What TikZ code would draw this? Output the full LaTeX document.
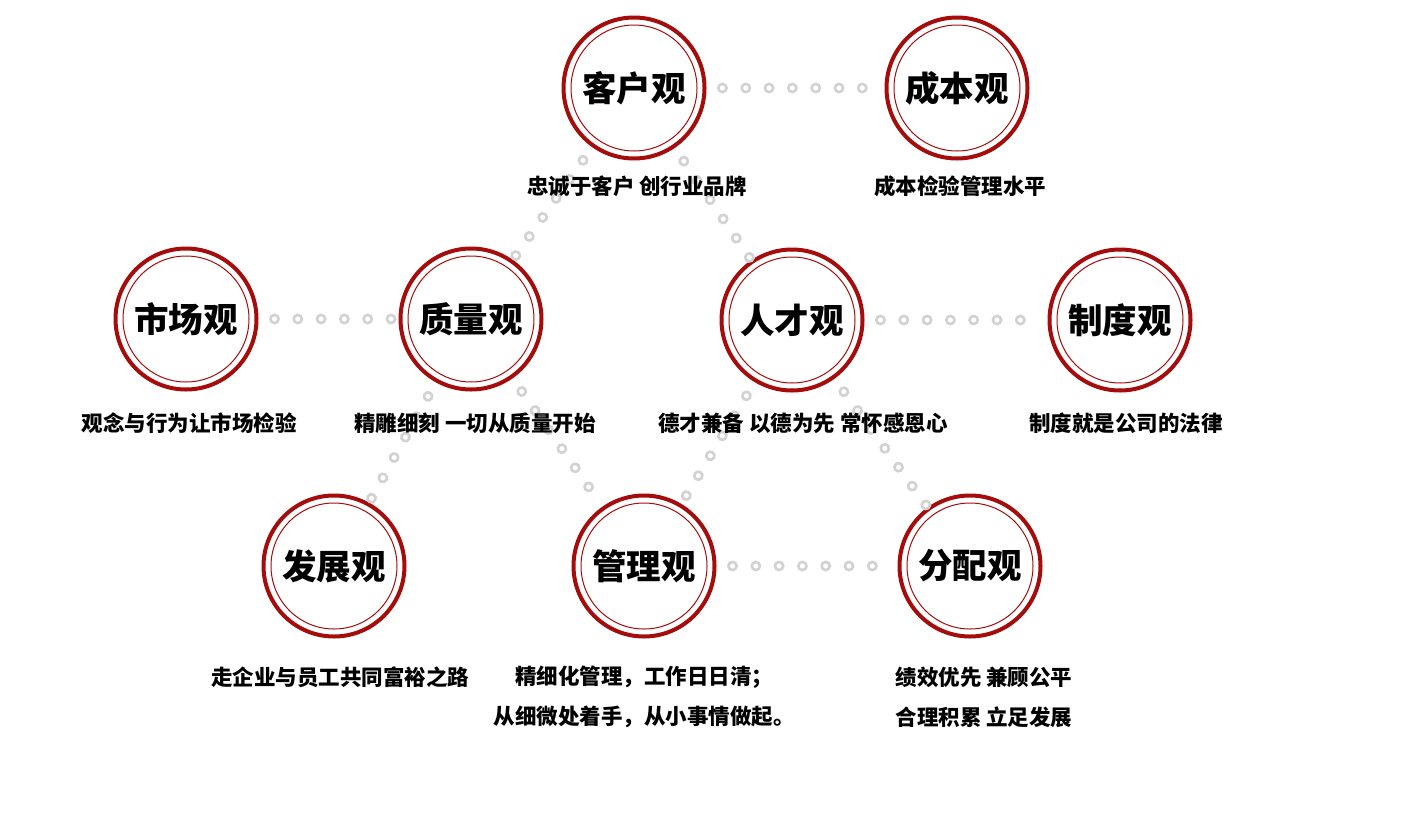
\documentclass[tikz,border=0pt]{standalone}
\usepackage{fontspec}
\newfontfamily\cjk{Noto Sans CJK SC}
\usetikzlibrary{decorations.markings}
\definecolor{ringred}{HTML}{A50D0D}
\definecolor{dotgray}{HTML}{D2D2D2}

\begin{document}
\begin{tikzpicture}[x=1pt, y=-1pt,
    idea/.style={circle, draw=ringred, line width=4pt, fill=white, minimum size=141pt, inner sep=0pt,
        font=\cjk\bfseries\fontsize{34.5}{34.5}\selectfont},
    motto/.style={font=\cjk\bfseries\fontsize{21.5}{40}\selectfont, align=center},
    ringlink/.style={postaction={decorate}, decoration={markings,
        mark=between positions 16pt and #1 step 23.3pt with {\draw[dotgray, line width=2.6pt] (0,0) circle (4.1pt);}}},
    ringlink/.default=-2pt]
    % Canvas
    \fill[white] (0,0) rectangle (1409,825);
    \useasboundingbox (0,0) rectangle (1409,825);

    % Draw the circles
    \node[idea] (kehu) at (634,88) {客户观};
    \node[idea] (chengben) at (957,88) {成本观};
    \node[idea] (shichang) at (186,319) {市场观};
    \node[idea] (zhiliang) at (471,319) {质量观};
    \node[idea] (rencai) at (792,320) {人才观};
    \node[idea] (zhidu) at (1120,320) {制度观};
    \node[idea] (fazhan) at (334,566) {发展观};
    \node[idea] (guanli) at (644,566) {管理观};
    \node[idea] (fenpei) at (970,566) {分配观};
    \foreach \n in {kehu,chengben,shichang,zhiliang,rencai,zhidu,fazhan,guanli,fenpei}
        \draw[ringred, line width=1pt] (\n.center) circle (63pt);

    % Dotted links
    \path[ringlink] (kehu) -- (chengben);
    \path[ringlink] (kehu) -- (zhiliang);
    \path[ringlink] (kehu) -- (rencai);
    \path[ringlink] (shichang) -- (zhiliang);
    \path[ringlink=-12pt] (rencai) -- (zhidu);
    \path[ringlink] (zhiliang) -- (fazhan);
    \path[ringlink] (zhiliang) -- (guanli);
    \path[ringlink] (rencai) -- (guanli);
    \path[ringlink] (rencai) -- (fenpei);
    \path[ringlink] (guanli) -- (fenpei);

    % Texts under the circles
    \node[motto] (kehu-txt) at (637,186) {忠诚于客户 创行业品牌};
    \node[motto] (chengben-txt) at (960,186) {成本检验管理水平};
    \node[motto] (shichang-txt) at (189,423) {观念与行为让市场检验};
    \node[motto] (zhiliang-txt) at (475,423) {精雕细刻 一切从质量开始};
    \node[motto] (rencai-txt) at (803,423) {德才兼备 以德为先 常怀感恩心};
    \node[motto] (zhidu-txt) at (1126,423) {制度就是公司的法律};
    \node[motto] (fazhan-txt) at (340,677) {走企业与员工共同富裕之路};
    \node[motto] (guanli-txt) at (644,697) {精细化管理，工作日日清；\\从细微处着手，从小事情做起。};
    \node[motto, align=left] (fenpei-txt) at (984,697) {绩效优先 兼顾公平\\合理积累 立足发展};
\end{tikzpicture}
\end{document}
